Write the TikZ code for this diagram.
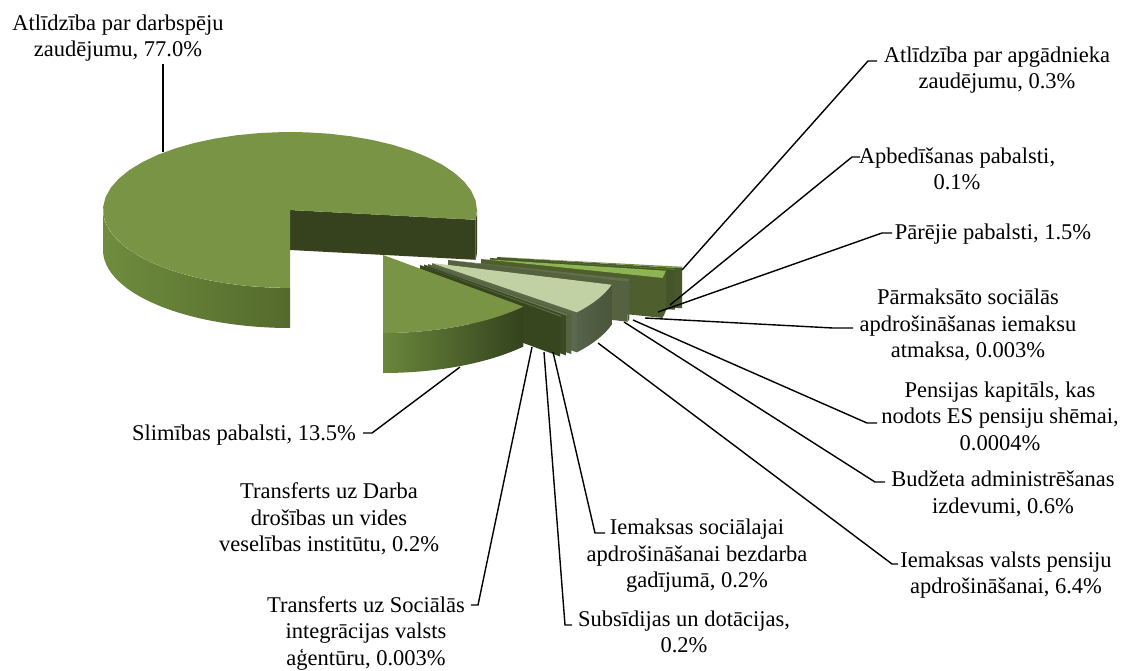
\documentclass[tikz,border=0pt]{standalone}
\usepackage{fontspec}
\setmainfont{Liberation Serif}
\definecolor{bigtop}{HTML}{7A9445}
\definecolor{bigsideL}{HTML}{6F8C3E}
\definecolor{bigsideR}{HTML}{546A2C}
\definecolor{bigwall}{HTML}{36421E}
\definecolor{sicksideL}{HTML}{6A873B}
\definecolor{sicksideR}{HTML}{34421D}
\definecolor{bigtopB}{HTML}{C2D1A4}
\definecolor{bsideL}{HTML}{56624A}
\definecolor{bsideR}{HTML}{4A563A}
\definecolor{bwall}{HTML}{5C694C}
\definecolor{gtopA}{HTML}{71903F}
\definecolor{gwallA}{HTML}{48582A}
\definecolor{gtopB}{HTML}{6A873A}
\definecolor{gwallB}{HTML}{45552A}
\definecolor{gtopC}{HTML}{8DB553}
\definecolor{gwallC}{HTML}{4E5F2D}
\definecolor{gtopD}{HTML}{616F4E}
\definecolor{gwallD}{HTML}{56623F}
\definecolor{ttopA}{HTML}{5B6A48}
\definecolor{twallA}{HTML}{55643F}
\definecolor{ttopB}{HTML}{6B7B57}
\definecolor{twallB}{HTML}{3C4A24}
\definecolor{ttopC}{HTML}{5A6947}
\definecolor{twallC}{HTML}{38461F}
\newcommand\slicetop[5]{\fill[#5] (#1,#2) -- plot[domain=#3:#4,samples=40,variable=\q] ({#1+187*cos(\q)},{#2-78*sin(\q)}) -- cycle;}
\newcommand\slicewall[4]{\fill[#4] (#1,#2) -- ({#1+187*cos(#3)},{#2-78*sin(#3)}) -- ({#1+187*cos(#3)},{#2-78*sin(#3)+40}) -- (#1,{#2+40}) -- cycle;}
\newcommand\sliceside[6]{\shade[left color=#5,right color=#6] plot[domain=#3:#4,samples=40,variable=\q] ({#1+187*cos(\q)},{#2-78*sin(\q)}) -- plot[domain=#4:#3,samples=40,variable=\q] ({#1+187*cos(\q)},{#2-78*sin(\q)+40}) -- cycle;}
\begin{document}
\begin{tikzpicture}[x=1pt,y=-1pt,
  lab/.style={align=center,inner sep=0pt,font=\fontsize{22.5}{26.5}\selectfont},
  lead/.style={draw=black,line width=1.4pt}]
\useasboundingbox (0,0) rectangle (1125,670);
% big slice 77.0%
\slicewall{290}{210}{-7.2}{bigwall}
\sliceside{290}{210}{180}{270}{bigsideL}{bigsideR}
\sliceside{290}{210}{-7.2}{0}{bigwall}{bigwall}
\slicetop{290}{210}{-7.2}{270}{bigtop}
% rear slices
\slicewall{497}{257}{351.72}{gwallA}
\sliceside{497}{257}{351.72}{352.8}{gwallA}{gwallA}
\slicetop{497}{257}{351.72}{352.8}{gtopA}
\slicewall{490}{258}{351.36}{gwallB}
\slicetop{490}{258}{351.36}{351.72}{gtopB}
\slicewall{481}{259}{345.96}{gwallC}
\sliceside{481}{259}{345.96}{351.36}{gwallC}{gwallC}
\slicetop{481}{259}{345.96}{351.36}{gtopC}
\slicewall{448}{260}{343.8}{gwallD}
\sliceside{448}{260}{343.8}{345.96}{gwallD}{gwallD}
\slicetop{448}{260}{343.8}{345.96}{gtopD}
% 6.4% slice
\slicewall{432}{263}{320.76}{bwall}
\sliceside{432}{263}{320.76}{343.8}{bsideL}{bsideR}
\slicetop{432}{263}{320.76}{343.8}{bigtopB}
% thin slices
\slicewall{428}{264}{320.04}{twallA}
\slicetop{428}{264}{320.04}{320.76}{ttopA}
\slicewall{424}{264.5}{319.32}{twallB}
\slicetop{424}{264.5}{319.32}{320.04}{ttopB}
\slicewall{420}{265}{318.59}{twallC}
\slicetop{420}{265}{318.59}{319.31}{ttopC}
% sickness slice 13.5%
\sliceside{383}{255}{270}{318.6}{sicksideL}{sicksideR}
\slicetop{383}{255}{270}{318.6}{bigtop}
% labels
\node[lab] (l1) at (118,38) {Atlīdzība par darbspēju\\zaudējumu, 77.0\%};
\node[lab] (l2) at (997,70) {Atlīdzība par apgādnieka\\zaudējumu, 0.3\%};
\node[lab] (l3) at (957,169) {Apbedīšanas pabalsti,\\0.1\%};
\node[lab] (l4) at (993,234) {Pārējie pabalsti, 1.5\%};
\node[lab] (l5) at (968,325) {Pārmaksāto sociālās\\apdrošināšanas iemaksu\\atmaksa, 0.003\%};
\node[lab] (l6) at (1000,416) {Pensijas kapitāls, kas\\nodots ES pensiju shēmai,\\0.0004\%};
\node[lab] (l7) at (1003,494) {Budžeta administrēšanas\\izdevumi, 0.6\%};
\node[lab] (l8) at (1006,575) {Iemaksas valsts pensiju\\apdrošināšanai, 6.4\%};
\node[lab] (l9) at (697,556) {Iemaksas sociālajai\\apdrošināšanai bezdarba\\gadījumā, 0.2\%};
\node[lab] (l10) at (684,632) {Subsīdijas un dotācijas,\\0.2\%};
\node[lab] (l11) at (366,633) {Transferts uz Sociālās\\integrācijas valsts\\aģentūru, 0.003\%};
\node[lab] (l12) at (329,519) {Transferts uz Darba\\drošības un vides\\veselības institūtu, 0.2\%};
\node[lab] (l13) at (244,435) {Slimības pabalsti, 13.5\%};
% leader lines
\coordinate (p1) at (163,152); \coordinate (k1) at (163,64);
\coordinate (p2) at (682,270); \coordinate (b2) at (868,61); \coordinate (k2) at (877,61);
\coordinate (p3) at (670,305); \coordinate (b3) at (852,157); \coordinate (k3) at (860,157);
\coordinate (p4) at (658,312); \coordinate (b4) at (882,233); \coordinate (k4) at (892,233);
\coordinate (p5) at (645,318); \coordinate (b5) at (833,328); \coordinate (k5) at (853,328);
\coordinate (p6) at (633,320); \coordinate (b6) at (867,423); \coordinate (k6) at (877,423);
\coordinate (p7) at (624,322); \coordinate (b7) at (875,482); \coordinate (k7) at (885,482);
\coordinate (p8) at (598,343); \coordinate (b8) at (892,564); \coordinate (k8) at (898,564);
\coordinate (p9) at (553,352); \coordinate (b9) at (595,533); \coordinate (k9) at (605,533);
\coordinate (p10) at (544,352); \coordinate (b10) at (565,625); \coordinate (k10) at (572,625);
\coordinate (p11) at (532,347); \coordinate (b11) at (478,605); \coordinate (k11) at (471,605);
\coordinate (p13) at (460,367); \coordinate (b13) at (372,433); \coordinate (k13) at (363,433);
\draw[lead] (p1) -- (k1);
\foreach \i in {2,...,11,13} {\draw[lead] (p\i) -- (b\i) -- (k\i);}
\end{tikzpicture}
\end{document}
